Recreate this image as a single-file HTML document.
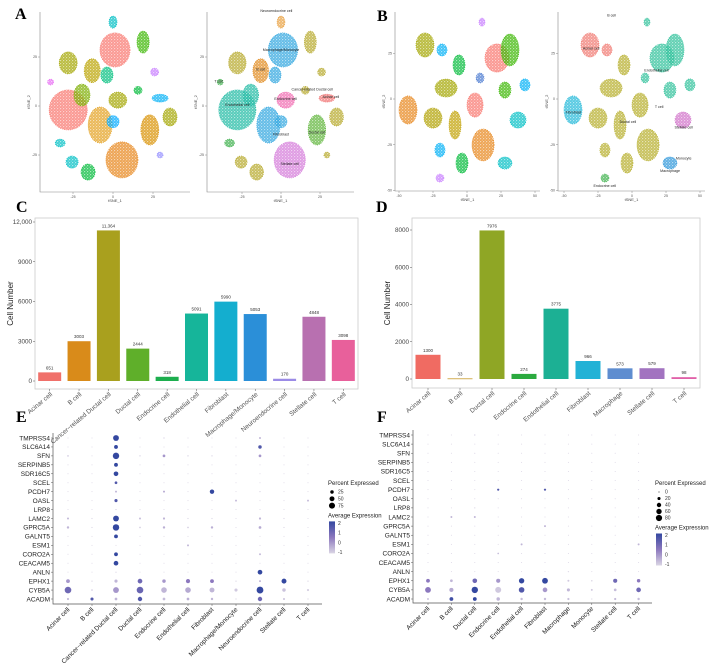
<!DOCTYPE html>
<html><head><meta charset="utf-8">
<style>
html,body{margin:0;padding:0;background:#fff;}
svg{display:block;font-family:"Liberation Sans",sans-serif;}
.let{font-family:"Liberation Serif",serif;font-weight:bold;font-size:16px;}
</style></head>
<body>
<svg id="fig" width="718" height="664" viewBox="0 0 718 664">
<defs>
<pattern id="speckle" width="3" height="3" patternUnits="userSpaceOnUse">
<circle cx="0.7" cy="0.7" r="0.55" fill="#fff" fill-opacity="0.85"/>
<circle cx="2.2" cy="2.1" r="0.45" fill="#fff" fill-opacity="0.7"/>
</pattern>
</defs>
<text class="let" x="15" y="19">A</text>
<text class="let" x="377" y="21">B</text>
<text class="let" x="16" y="212">C</text>
<text class="let" x="376" y="212">D</text>
<text class="let" x="16" y="422">E</text>
<text class="let" x="377" y="422">F</text>
</svg>
<script>
// ---------- data ----------
const tsneAClusters = [[1.25,28.6,9.4,8.7],[-28,-2,11.9,10.2],[-28,22,5.6,5.6],[-13,18,5,6.1],[-19.4,5.6,5,5.6],[-3.8,15.8,3.8,4.1],[-8,-9.7,7.5,9.2],[5.6,-27.5,10,9.2],[23,-12.2,5.6,7.7],[3,3,5.6,4.1],[0,-8,3.8,3.1],[18.8,32.6,3.8,5.6],[-15.6,-33.7,4.4,4.1],[-25.6,-28.6,3.8,3.1],[-33,-18.9,3.1,2],[35.6,-5.6,4.4,4.6],[29.4,4,5,2],[26,17.3,2.5,2],[-39,12.2,1.9,1.5],[0,42.8,2.5,3.1],[15.6,8,2.5,2],[29.4,-25,1.9,1.5]];
const tsneALeftColors = ["#F8766D","#F8766D","#A3A500","#B9A300","#7CAE00","#00BF7D","#E3A01F","#E7861B","#D89000","#A3A500","#00A9FF","#39B600","#00BA38","#00BFC4","#00BFC4","#A3A500","#00B0F6","#C77CFF","#E76BF3","#00BFC4","#00BA38","#9590FF"];
const tsneARightColors = ["#2FA6DF","#1FB9A3","#B5A82A","#E08A1E","#1FB9A3","#2FA6DF","#2FA6DF","#D47AD9","#5DB43A","#F069B0","#2FA6DF","#B5A82A","#B5A82A","#B5A82A","#3BAF4A","#B5A82A","#F07070","#B5A82A","#3BAF4A","#E8A040","#B5A82A","#B5A82A"];
const tsneARightLabels = [[0,28,"Macrophage/Monocyte"],[-28,0,"Endothelial cell"],[-13,18,"B cell"],[0,-15,"Fibroblast"],[5.6,-30,"Stellate cell"],[23,-14,"Ductal cell"],[3,3,"Endocrine cell"],[20,8,"Cancer-related Ductal cell"],[32,4,"Acinar cell"],[-3,48,"Neuroendocrine cell"],[-40,12,"T cell"]];
const tsneBClusters = [[-30.9,29.5,6.6,6.6],[-18.4,26.8,3.7,3.3],[-5.9,18.6,4.4,5.5],[22,22.4,8.8,7.7],[31.6,26.8,6.6,8.7],[-15.4,6,8.1,4.9],[5.9,-3.3,5.9,6.6],[-43.4,-6,6.6,7.7],[-25,-10.4,6.6,5.5],[-8.8,-14.2,4.4,7.7],[11.8,-25.1,8.1,8.7],[9.6,11.5,2.9,2.7],[27.9,4.9,4.4,4.4],[42.6,7.7,3.7,3.3],[37.5,-11.5,5.9,4.4],[-19.9,-27.9,3.7,3.8],[-3.7,-35,4.4,5.5],[27.9,-35,5.1,3.3],[-19.9,-43.2,2.9,2.2],[11,42,2.2,2.2]];
const tsneBLeftColors = ["#A3A500","#00B0F6","#00BA38","#F8766D","#39B600","#A3A500","#F8766D","#E7861B","#B0A000","#C0A000","#E7861B","#4A7AD0","#39B600","#00B0F6","#00BFC4","#00B0F6","#00BA38","#00BFC4","#C77CFF","#C77CFF"];
const tsneBRightColors = ["#F07870","#F07870","#B5AE2A","#2EC09A","#2EC09A","#B5AE2A","#B5AE2A","#22B8D8","#B5AE2A","#B5AE2A","#B5AE2A","#2EC09A","#2EC09A","#2EC09A","#D070C8","#B5AE2A","#B5AE2A","#2C96DA","#3BB04A","#2EC09A"];
const tsneBRightLabels = [[-30,27,"Acinar cell"],[18,15,"Endothelial cell"],[-43,-8,"Fibroblast"],[-3,-13,"Ductal cell"],[38,-16,"Stellate cell"],[28,-40,"Macrophage"],[38,-33,"Monocyte"],[-20,-48,"Endocrine cell"],[-15,45,"B cell"],[20,-5,"T cell"]];

const cCats = ["Acinar cell","B cell","Cancer−related Ductal cell","Ductal cell","Endocrine cell","Endothelial cell","Fibroblast","Macrophage/Monocyte","Neuroendocrine cell","Stellate cell","T cell"];
const cVals = [651,3003,11364,2444,318,5091,5990,5053,170,4848,3098];
const cLabels = ["651","3003","11,364","2444","318","5091","5990","5053","170","4848","3098"];
const cTicks = [0,3000,6000,9000,12000];
const cTickLabels = ["0","3000","6000","9000","12,000"];
const cColors = ["#F0706A","#D98B1A","#A9A01E","#5FAF2A","#1DAE4E","#16B59A","#14AECF","#2B8FD8","#9B8BE6","#B870B0","#E8609B"];

const dCats = ["Acinar cell","B cell","Ductal cell","Endocrine cell","Endothelial cell","Fibroblast","Macrophage","Stellate cell","T cell"];
const dVals = [1300,33,7976,274,3775,966,573,579,98];
const dTicks = [0,2000,4000,6000,8000];
const dColors = ["#F06B62","#C89A2A","#8FA625","#2BAA3F","#1CB094","#22B2D6","#5E8DD0","#A273C0","#E060A8"];

const genes = ["TMPRSS4","SLC6A14","SFN","SERPINB5","SDR16C5","SCEL","PCDH7","OASL","LRP8","LAMC2","GPRC5A","GALNT5","ESM1","CORO2A","CEACAM5","ANLN","EPHX1","CYB5A","ACADM"];
const eCats = cCats;
const ePct = [
[2,2,70,2,3,2,2,2,8,2,2],
[1,1,30,1,1,1,1,1,25,1,1],
[5,2,85,3,15,3,3,2,15,2,2],
[1,1,30,1,1,1,1,1,2,1,1],
[1,1,45,1,2,1,1,1,2,1,1],
[1,1,15,1,1,1,1,1,1,1,1],
[2,2,8,2,8,2,40,2,3,2,2],
[2,2,20,2,2,2,2,8,2,2,8],
[1,1,3,1,1,1,1,1,1,1,1],
[8,3,70,8,10,3,3,2,10,3,2],
[12,3,85,5,12,5,12,2,15,3,2],
[1,1,30,1,1,1,1,1,1,1,1],
[1,1,1,1,1,8,1,1,1,1,1],
[2,2,30,2,2,2,2,2,8,2,2],
[2,2,45,2,2,2,2,2,2,2,2],
[1,1,3,1,1,1,1,1,45,1,1],
[30,3,20,45,25,35,30,3,8,50,3],
[90,5,70,90,65,65,50,20,95,25,10],
[10,20,15,40,15,15,12,3,40,8,3]];
const eExp = [
[-1,-1,2,-1,-0.8,-1,-1,-1,-0.5,-1,-1],
[-1,-1,2,-1,-1,-1,-1,-1,1.5,-1,-1],
[-0.7,-1,2,-0.8,0,-0.8,-0.9,-1,0,-1,-1],
[-1,-1,2,-1,-1,-1,-1,-1,-1,-1,-1],
[-1,-1,2,-1,-1,-1,-1,-1,-1,-1,-1],
[-1,-1,1.5,-1,-1,-1,-1,-1,-1,-1,-1],
[-1,-1,-0.5,-1,-0.3,-1,2,-1,-1,-1,-1],
[-1,-1,1.5,-1,-1,-1,-1,-0.6,-1,-1,-0.6],
[-1,-1,-0.8,-1,-1,-1,-1,-1,-1,-1,-1],
[-0.5,-1,2,-0.6,-0.5,-1,-1,-1,-0.5,-1,-1],
[-0.5,-1,2,-0.8,-0.4,-0.8,-0.4,-1,-0.3,-1,-1],
[-1,-1,2,-1,-1,-1,-1,-1,-1,-1,-1],
[-1,-1,-1,-1,-1,-0.5,-1,-1,-1,-1,-1],
[-1,-1,2,-1,-1,-1,-1,-1,-0.6,-1,-1],
[-1,-1,2,-1,-1,-1,-1,-1,-1,-1,-1],
[-1,-1,-1,-1,-1,-1,-1,-1,2,-1,-1],
[0,-1,-0.5,1,0,0.5,0.5,-1,-0.5,2,-1],
[1,-0.8,0,1.1,-0.5,-0.3,-0.5,-0.8,2,-0.7,-0.9],
[-0.6,1.5,-0.5,1.5,-0.6,-0.4,-0.5,-1,1,-0.7,-1]];

const fCats = ["Acinar cell","B cell","Ductal cell","Endocrine cell","Endothelial cell","Fibroblast","Macrophage","Monocyte","Stellate cell","T cell"];
const fPct = [
[1,1,3,1,1,1,1,1,1,1],
[1,1,1,1,1,1,1,1,1,1],
[1,1,2,1,1,1,1,1,1,1],
[1,1,1,1,1,1,1,1,1,1],
[1,1,2,1,1,1,1,1,1,1],
[1,1,2,1,1,1,1,1,1,1],
[1,1,2,10,1,10,1,1,1,1],
[1,1,2,1,1,1,2,1,1,1],
[1,1,3,1,2,1,2,1,1,1],
[2,8,8,2,2,2,2,1,2,2],
[1,1,2,1,2,8,2,1,1,1],
[1,1,1,1,1,1,1,1,1,1],
[1,1,1,1,8,1,1,1,1,8],
[1,1,1,6,1,1,1,1,1,2],
[1,1,1,1,1,1,1,1,1,1],
[1,1,1,1,1,1,3,1,1,1],
[30,15,45,35,60,70,8,5,35,25],
[70,35,85,75,65,45,20,8,15,45],
[8,30,30,25,12,12,10,3,10,12]];
const fExp = [
[-1,-1,-0.8,-1,-1,-1,-1,-1,-1,-1],
[-1,-1,-1,-1,-1,-1,-1,-1,-1,-1],
[-1,-1,-0.8,-1,-1,-1,-1,-1,-1,-1],
[-1,-1,-1,-1,-1,-1,-1,-1,-1,-1],
[-1,-1,-1,-1,-1,-1,-1,-1,-1,-1],
[-1,-1,-1,-1,-1,-1,-1,-1,-1,-1],
[-1,-1,-1,1.5,-1,1.5,-1,-1,-1,-1],
[-1,-1,-1,-1,-1,-1,-1,-1,-1,-1],
[-1,-1,-1,-1,-1,-1,-1,-1,-1,-1],
[-1,-0.5,-0.5,-1,-1,-1,-1,-1,-1,-1],
[-1,-1,-1,-1,-1,-0.5,-1,-1,-1,-1],
[-1,-1,-1,-1,-1,-1,-1,-1,-1,-1],
[-1,-1,-1,-1,-0.5,-1,-1,-1,-1,-0.5],
[-1,-1,-1,-0.6,-1,-1,-1,-1,-1,-1],
[-1,-1,-1,-1,-1,-1,-1,-1,-1,-1],
[-1,-1,-1,-1,-1,-1,-1,-1,-1,-1],
[0.5,-0.5,1,0,2,2,-0.8,-1,1,0.5],
[0.5,-0.3,2,-0.8,1.5,0,-0.5,-0.8,-0.6,1],
[-0.7,1.8,2,-0.5,-0.6,-0.6,-0.7,-1,-0.6,-0.6]];

// ---------- helpers ----------
const svg = document.getElementById('fig');
const NS = "http://www.w3.org/2000/svg";
function mk(tag, attrs, parent, txt){
  const e = document.createElementNS(NS, tag);
  for (const k in attrs) e.setAttribute(k, attrs[k]);
  if (txt !== undefined) e.textContent = txt;
  (parent || svg).appendChild(e);
  return e;
}
function lerp(a,b,t){return a+(b-a)*t;}
function expColor(v){
  const t = Math.max(0, Math.min(1, (v+1)/3));
  const c0=[218,213,228], c1=[140,120,190], c2=[52,72,160];
  let c;
  if (t<0.5){const u=t/0.5;c=c0.map((x,i)=>lerp(x,c1[i],u));}
  else {const u=(t-0.5)/0.5;c=c1.map((x,i)=>lerp(x,c2[i],u));}
  return "rgb("+c.map(Math.round).join(",")+")";
}

// ---------- tSNE ----------
function tsne(opts){
  const g = mk('g', {});
  
  
  const sx = u => opts.x0 + u*opts.kx;
  const sy = u => opts.y0 - u*opts.ky;
  const ax = mk('path', {d:`M${opts.left} ${opts.top} V${opts.bottom} H${opts.right}`, stroke:"#888", "stroke-width":0.6, fill:"none"}, g);
  
  
  opts.xt.forEach(t=>{
    mk('line',{x1:sx(t),x2:sx(t),y1:opts.bottom,y2:opts.bottom+2,stroke:"#888","stroke-width":0.5},g);
    const l = mk('text',{x:sx(t),y:opts.bottom+6,"font-size":3.5,"text-anchor":"middle",fill:"#555"},g,String(t));
    
    
  });
  opts.yt.forEach(t=>{
    mk('line',{x1:opts.left-2,x2:opts.left,y1:sy(t),y2:sy(t),stroke:"#888","stroke-width":0.5},g);
    const l = mk('text',{x:opts.left-3,y:sy(t)+1.2,"font-size":3.5,"text-anchor":"end",fill:"#555"},g,String(t));
    
    
  });
  const xt = mk('text',{x:(opts.left+opts.right)/2,y:opts.bottom+10,"font-size":4,"text-anchor":"middle",fill:"#444"},g,"tSNE_1");
  
  
  const yx = opts.left-10, yy=(opts.top+opts.bottom)/2;
  const yt = mk('text',{x:yx,y:yy,"font-size":4,"text-anchor":"middle",fill:"#444",transform:`rotate(-90 ${yx} ${yy})`},g,"tSNE_2");
  
  
  opts.clusters.forEach((c,i)=>{
    const e = mk('ellipse',{cx:sx(c[0]),cy:sy(c[1]),rx:c[2]*opts.kx,ry:c[3]*opts.ky,fill:opts.colors[i],"fill-opacity":0.75,stroke:opts.colors[i],"stroke-width":0.7,"stroke-dasharray":"1 1"},g);
    
    
    const s = mk('ellipse',{cx:sx(c[0]),cy:sy(c[1]),rx:c[2]*opts.kx,ry:c[3]*opts.ky,fill:"url(#speckle)"},g);
    
    
  });
  (opts.labels||[]).forEach(lb=>{
    const t = mk('text',{x:sx(lb[0]),y:sy(lb[1]),"font-size":3.6,"text-anchor":"middle",fill:"#222"},g,lb[2]);
    
    
  });
}
tsne({name:"tsne-a-clusters",x0:113,kx:1.6,y0:106,ky:1.96,left:40,right:190,top:12,bottom:192,xt:[-25,0,25],yt:[25,0,-25],clusters:tsneAClusters,colors:tsneALeftColors});
tsne({name:"tsne-a-celltypes",x0:281,kx:1.56,y0:106,ky:1.96,left:207,right:354,top:12,bottom:192,xt:[-25,0,25],yt:[25,0,-25],clusters:tsneAClusters,colors:tsneARightColors,labels:tsneARightLabels});
tsne({name:"tsne-b-clusters",x0:467,kx:1.36,y0:99,ky:1.83,left:395,right:540,top:12,bottom:191,xt:[-50,-25,0,25,50],yt:[25,0,-25,-50],clusters:tsneBClusters,colors:tsneBLeftColors});
tsne({name:"tsne-b-celltypes",x0:632,kx:1.36,y0:99,ky:1.83,left:558,right:705,top:12,bottom:191,xt:[-50,-25,0,25,50],yt:[25,0,-25,-50],clusters:tsneBClusters,colors:tsneBRightColors,labels:tsneBRightLabels});

// ---------- bar charts ----------
function bars(o){
  const g = mk('g',{});
  
  
  const y = v => o.y0 - v/o.vmax*(o.y0-o.ytop);
  const n = o.vals.length, step=(o.right-o.left)/n;
  const x = i => o.left + step*(i+0.5);
  const box = mk('rect',{x:o.left,y:o.top,width:o.right-o.left,height:o.bottom-o.top,fill:"none",stroke:"#ccc","stroke-width":0.8},g);
  
  
  o.ticks.forEach((t,i)=>{
    mk('line',{x1:o.left-2,x2:o.left,y1:y(t),y2:y(t),stroke:"#555","stroke-width":0.5},g);
    const l = mk('text',{x:o.left-3,y:y(t)+2.2,"font-size":6.3,"text-anchor":"end",fill:"#444"},g,o.tickLabels[i]);
    
    
  });
  const tx=o.titleX, ty=(o.top+o.bottom)/2;
  const tt = mk('text',{x:tx,y:ty,"font-size":8,"text-anchor":"middle",fill:"#222",transform:`rotate(-90 ${tx} ${ty})`},g,"Cell Number");
  
  
  o.vals.forEach((v,i)=>{
    const r = mk('rect',{x:x(i)-o.bw/2,y:y(v),width:o.bw,height:Math.max(0.8,o.y0-y(v)),fill:o.colors[i]},g);
    
    
    const vl = mk('text',{x:x(i),y:y(v)-3,"font-size":4.5,"text-anchor":"middle",fill:"#333"},g,o.labels ? o.labels[i] : String(v));
    
    
    mk('line',{x1:x(i),x2:x(i),y1:o.bottom,y2:o.bottom+2,stroke:"#555","stroke-width":0.5},g);
    const cx=x(i)+3, cy=o.bottom+6;
    const cl = mk('text',{x:cx,y:cy,"font-size":6.5,"text-anchor":"end",fill:"#555",transform:`rotate(-40 ${cx} ${cy})`},g,o.cats[i]);
    
    
  });
}
bars({name:"cell-number-bar-chart-c",left:35,right:358,top:218,bottom:389,y0:381,ytop:222,vmax:12000,ticks:cTicks,tickLabels:cTickLabels,vals:cVals,labels:cLabels,cats:cCats,colors:cColors,bw:23,titleX:13});
bars({name:"cell-number-bar-chart-d",left:412,right:700,top:218,bottom:388,y0:379,ytop:230,vmax:8000,ticks:dTicks,tickLabels:dTicks.map(String),vals:dVals,cats:dCats,colors:dColors,bw:25,titleX:390});

// ---------- dot plots ----------
function dots(o){
  const g = mk('g',{});
  
  
  const rowY = i => o.ytop + i*(o.ybot-o.ytop)/(genes.length-1);
  const colX = j => o.x0 + j*o.dx;
  const rad = p => Math.max(0.5, Math.sqrt(p/o.pmax)*o.rmax);
  const ax = mk('path',{d:`M${o.axisX} ${o.ytop-5} V${o.axisY} H${o.axisR}`,stroke:"#555","stroke-width":0.7,fill:"none"},g);
  
  
  genes.forEach((gn,i)=>{
    mk('line',{x1:o.axisX-2,x2:o.axisX,y1:rowY(i),y2:rowY(i),stroke:"#555","stroke-width":0.5},g);
    const t = mk('text',{x:o.axisX-3,y:rowY(i)+2.3,"font-size":6.5,"text-anchor":"end",fill:"#222"},g,gn);
    
    
    o.cats.forEach((c,j)=>{
      const d = mk('circle',{cx:colX(j),cy:rowY(i),r:rad(o.pct[i][j]),fill:expColor(o.exp[i][j])},g);
      
      
    });
  });
  o.cats.forEach((c,j)=>{
    mk('line',{x1:colX(j),x2:colX(j),y1:o.axisY,y2:o.axisY+2,stroke:"#555","stroke-width":0.5},g);
    const cx=colX(j)+2, cy=o.axisY+6;
    const t = mk('text',{x:cx,y:cy,"font-size":6.5,"text-anchor":"end",fill:"#222",transform:`rotate(-45 ${cx} ${cy})`},g,c);
    
    
  });
  const L = o.legX;
  const lt = mk('text',{x:L,y:o.legY,"font-size":6,fill:"#222"},g,"Percent Expressed");
  
  
  o.legPct.forEach((p,k)=>{
    const yy = o.legY+7+k*o.legStep;
    const c = mk('circle',{cx:L+4,cy:yy,r:rad(p),fill:"#000"},g);
    
    
    const t = mk('text',{x:L+10,y:yy+1.7,"font-size":5,fill:"#333"},g,String(p));
    
    
  });
  const cy0 = o.legY+7+o.legPct.length*o.legStep+5;
  const ct = mk('text',{x:L,y:cy0,"font-size":6,fill:"#222"},g,"Average Expression");
  
  
  const gid = o.name+'-grad';
  const defs = mk('defs',{},g);
  const lg = mk('linearGradient',{id:gid,x1:0,y1:1,x2:0,y2:0},defs);
  [-1,-0.25,0.5,1.25,2].forEach((v,k)=>mk('stop',{offset:(k/4),"stop-color":expColor(v)},lg));
  const cb = mk('rect',{x:L+1,y:cy0+4,width:6,height:32,fill:`url(#${gid})`},g);
  
  
  [2,1,0,-1].forEach(v=>{
    const yy = cy0+4+ (2-v)/3.3*32 + 2;
    const t = mk('text',{x:L+10,y:yy+1.5,"font-size":5,fill:"#333"},g,String(v));
    
    
  });
}
dots({name:"dot-plot-e",cats:eCats,pct:ePct,exp:eExp,ytop:438,ybot:599,x0:68,dx:24,axisX:53,axisY:604,axisR:322,pmax:95,rmax:3.4,legX:328,legY:485,legPct:[25,50,75],legStep:6.8});
dots({name:"dot-plot-f",cats:fCats,pct:fPct,exp:fExp,ytop:435,ybot:599,x0:428,dx:23.4,axisX:413,axisY:603,axisR:652,pmax:85,rmax:3.2,legX:655,legY:485,legPct:[0,20,40,60,80],legStep:6.5});
</script>
</body></html>
